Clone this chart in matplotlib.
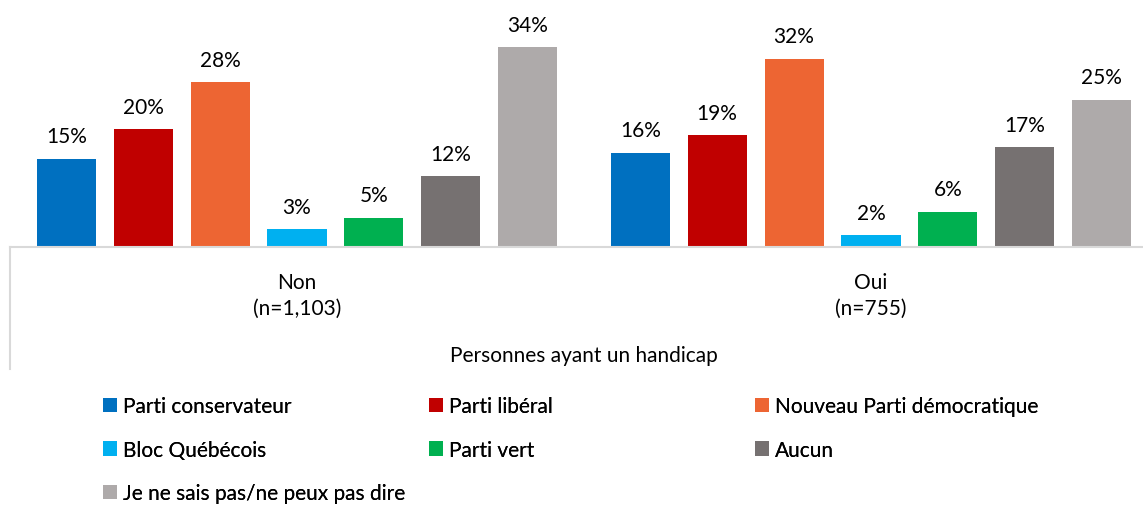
import numpy as np
import matplotlib.pyplot as plt

groups = ["Non\n(n=1,103)", "Oui\n(n=755)"]
parties = ["Parti conservateur", "Parti libéral", "Nouveau Parti démocratique",
           "Bloc Québécois", "Parti vert", "Aucun",
           "Je ne sais pas/ne peux pas dire"]
non_vals = [15, 20, 28, 3, 5, 12, 34]
oui_vals = [16, 19, 32, 2, 6, 17, 25]
colors = ["#0070C0", "#C00000", "#ED6533", "#00B0F0", "#00B050", "#767171", "#AEAAAA"]
axis_title = "Personnes ayant un handicap"

plt.rcParams['font.family'] = ['Lato', 'DejaVu Sans']
FS = 15

W, H = 1143, 506
fig = plt.figure(figsize=(W / 100, H / 100), dpi=100)
ax = fig.add_axes([10 / W, (H - 248) / H, 1148 / W, 248 / H])

x = np.arange(len(groups))
pitch = 0.134
width = 0.1028
bars = []
for i, name in enumerate(parties):
    vals = [non_vals[i], oui_vals[i]]
    b = ax.bar(x + (i - 3) * pitch, vals, width, color=colors[i], label=name)
    ax.bar_label(b, labels=[f"{v}%" for v in vals], padding=9, fontsize=FS)
    bars.append(b)

ax.set_xlim(-0.5, 1.5)
ax.set_ylim(0, 248 / 5.88)
for s in ["top", "right", "left"]:
    ax.spines[s].set_visible(False)
ax.spines["bottom"].set_color("#D9D9D9")
ax.spines["bottom"].set_linewidth(1.5)
ax.set_yticks([])
ax.set_xticks(x)
ax.set_xticklabels(groups, fontsize=FS, linespacing=1.35)
ax.tick_params(axis="x", length=0, pad=18)
ax.set_xlabel(axis_title, fontsize=FS, labelpad=20)
ax.plot([0, 0], [0, -0.49], transform=ax.transAxes, clip_on=False,
        color="#D9D9D9", lw=1.5)

# legend, filled row by row like the original, three equally spaced columns
cols = [[0, 3, 6], [1, 4], [2, 5]]
for k, idx in enumerate(cols):
    leg = fig.legend([bars[i] for i in idx], [parties[i] for i in idx],
                     loc="upper left", bbox_to_anchor=((103 + 326 * k) / W, 1 - 397 / H),
                     frameon=False, fontsize=FS, handlelength=0.67, handleheight=0.67,
                     handletextpad=0.3, labelspacing=1.14, borderaxespad=0,
                     borderpad=0)
    fig.add_artist(leg)

fig.savefig("out.png", dpi=100)
